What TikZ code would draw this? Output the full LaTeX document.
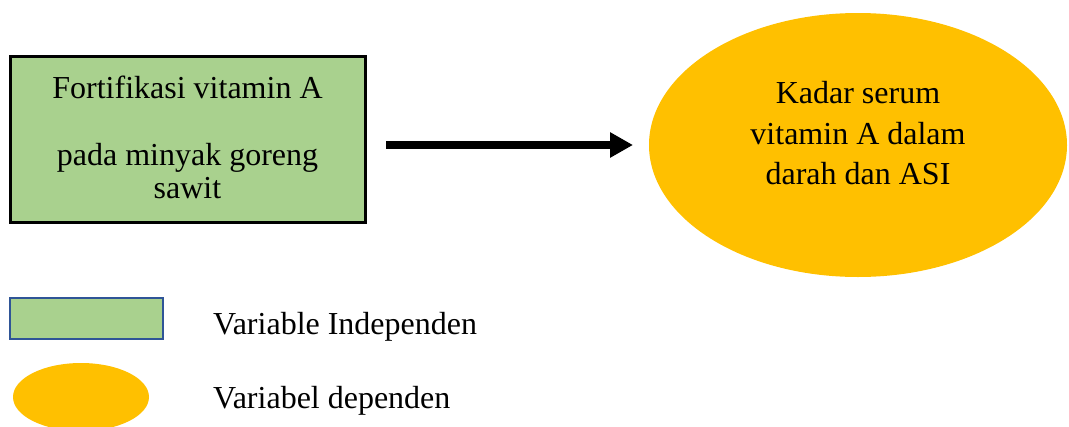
\documentclass[tikz,border=0pt]{standalone}
\usepackage{fontspec}
\setmainfont{Liberation Serif}
\usetikzlibrary{arrows.meta}
\definecolor{indepgreen}{HTML}{A9D18E}
\definecolor{depyellow}{HTML}{FFC000}
\definecolor{legendblue}{HTML}{2F5597}
\tikzset{
  lbl/.style={anchor=base,inner sep=0pt,font=\fontsize{32}{36}\selectfont},
  lbll/.style={anchor=base west,inner sep=0pt,font=\fontsize{32}{36}\selectfont},
}
\begin{document}
\begin{tikzpicture}[x=1pt,y=-1pt]
\useasboundingbox (0,0) rectangle (1069,426);
\clip (0,0) rectangle (1069,426);
% independent variable box
\node[draw=black,line width=3pt,fill=indepgreen,minimum width=355pt,minimum height=166pt,inner sep=0pt] (indep) at (187.5,139) {};
\node[lbl] (t1) at (187.5,98) {Fortifikasi vitamin A};
\node[lbl] (t2) at (187.5,165) {pada minyak goreng};
\node[lbl] (t3) at (187.5,198) {sawit};
% dependent variable ellipse
\fill[depyellow] (858,145) ellipse [x radius=209, y radius=132];
\coordinate (dep) at (633,145);
\coordinate (start) at (386,145);
\node[lbl] (d1) at (858,103) {Kadar serum};
\node[lbl] (d2) at (858,144) {vitamin A dalam};
\node[lbl] (d3) at (858,184) {darah dan ASI};
% arrow
\draw[line width=8pt,-{Triangle[length=23pt,width=24pt]}] (start) -- (dep);
% legend
\node[draw=legendblue,line width=1.8pt,fill=indepgreen,minimum width=153pt,minimum height=41pt,inner sep=0pt] (legrect) at (86.5,318.5) {};
\fill[depyellow] (81,397) ellipse [x radius=68, y radius=34];
\node[lbll] (l1) at (213,334) {Variable Independen};
\node[lbll] (l2) at (213,408) {Variabel dependen};
\end{tikzpicture}
\end{document}
